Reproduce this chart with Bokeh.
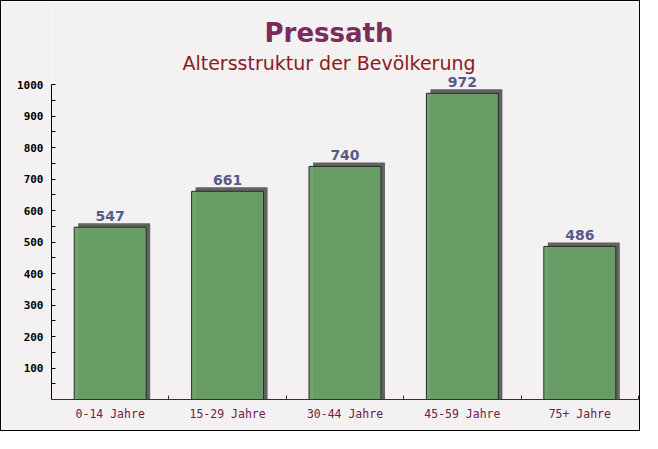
from bokeh.plotting import figure
from bokeh.models import Range1d, FixedTicker, Label, LabelSet, ColumnDataSource
from bokeh.transform import dodge
from bokeh.core.properties import value
from bokeh.embed import file_html
from bokeh.resources import INLINE

# ---- data ----
categories = ["0-14 Jahre", "15-29 Jahre", "30-44 Jahre", "45-59 Jahre", "75+ Jahre"]
values = [547, 661, 740, 972, 486]
y_ticks = [100, 200, 300, 400, 500, 600, 700, 800, 900, 1000]
title_text = "Pressath"
subtitle_text = "Altersstruktur der Bevölkerung"

# ---- layout constants ----
W, H = 640, 431
LEFT, RIGHT, BOTTOM = 50, 3, 33
AXIS_TOP = 83                           # canvas px where y = 1000 sits
frame_w = W - LEFT - RIGHT
frame_h = H - BOTTOM
y_max = 1000
px_x = frame_w / len(categories)        # pixels per x unit
px_y = (frame_h - AXIS_TOP) / y_max     # pixels per y unit
y_end = frame_h / px_y
shadow_px = 4
bar_width = 0.613

bg = "#f4f1f2"

centers = [i + 0.5 for i in range(len(categories))]
src = ColumnDataSource(dict(
    x=centers,
    top=values,
    shadow_top=[v + shadow_px / px_y for v in values],
    label=[str(v) for v in values],
))

p = figure(width=W, height=H, output_backend="svg", toolbar_location=None,
           x_range=Range1d(0, len(categories)), y_range=Range1d(0, y_end),
           min_border_left=LEFT, min_border_right=RIGHT,
           min_border_top=0, min_border_bottom=BOTTOM,
           background_fill_color=bg, border_fill_color=bg)
p.styles = {"border": "1px solid #000"}
p.outline_line_color = None
p.xgrid.visible = False
p.ygrid.visible = False

# shadow bars
p.vbar(x=dodge("x", shadow_px / px_x), top="shadow_top", bottom=0, width=bar_width,
       source=src, fill_color="#626262", line_color=None)
# main bars
p.vbar(x="x", top="top", bottom=0, width=bar_width, source=src,
       fill_color="#68a065", fill_alpha=0.95, line_color="#2a2a2a", line_width=1)

# value labels
labels = LabelSet(x="x", y="top", text="label", source=src, y_offset=6.5,
                  text_align="center", text_baseline="alphabetic",
                  text_font=value("DejaVu Sans"), text_font_style="bold",
                  text_font_size="14px", text_color="#555b8a")
p.add_layout(labels)

# axes
xa = p.xaxis[0]
xa.ticker = FixedTicker(ticks=centers, minor_ticks=list(range(1, len(categories) + 1)))
xa.major_label_overrides = {c: cat for c, cat in zip(centers, categories)}
xa.major_tick_in = 0
xa.major_tick_out = 0
xa.minor_tick_in = 4
xa.minor_tick_out = 0
xa.minor_tick_line_color = "#4a2535"
xa.axis_line_color = "#4a2535"
xa.major_label_text_font = "DejaVu Sans Mono"
xa.major_label_text_font_size = "11.5px"
xa.major_label_text_color = "#6a2248"
xa.major_label_standoff = 7

ya = p.yaxis[0]
ya.bounds = (0, y_max)
ya.ticker = FixedTicker(ticks=y_ticks, minor_ticks=[t - 50 for t in y_ticks])
ya.major_tick_in = 4
ya.major_tick_out = 0
ya.minor_tick_in = 4
ya.minor_tick_out = 0
ya.axis_line_color = "#000000"
ya.major_tick_line_color = "#000000"
ya.minor_tick_line_color = "#000000"
ya.major_label_text_font = "DejaVu Sans Mono"
ya.major_label_text_font_style = "bold"
ya.major_label_text_font_size = "11px"
ya.major_label_text_color = "#000000"
ya.major_label_standoff = 8

# titles (positioned relative to the y = 1000 line)
title_cx = (327.5 - LEFT) / px_x
p.add_layout(Label(x=title_cx, y=y_max + 52 / px_y, text=title_text,
                   text_align="center", text_baseline="alphabetic",
                   text_font="DejaVu Sans", text_font_style="bold",
                   text_font_size="26px", text_color="#7a2d58"))
p.add_layout(Label(x=title_cx, y=y_max + 22 / px_y, text=subtitle_text,
                   text_align="center", text_baseline="alphabetic",
                   text_font="DejaVu Sans", text_font_size="19px",
                   text_color="#8b1a1f"))

open("out.html", "w").write(file_html(p, INLINE))
